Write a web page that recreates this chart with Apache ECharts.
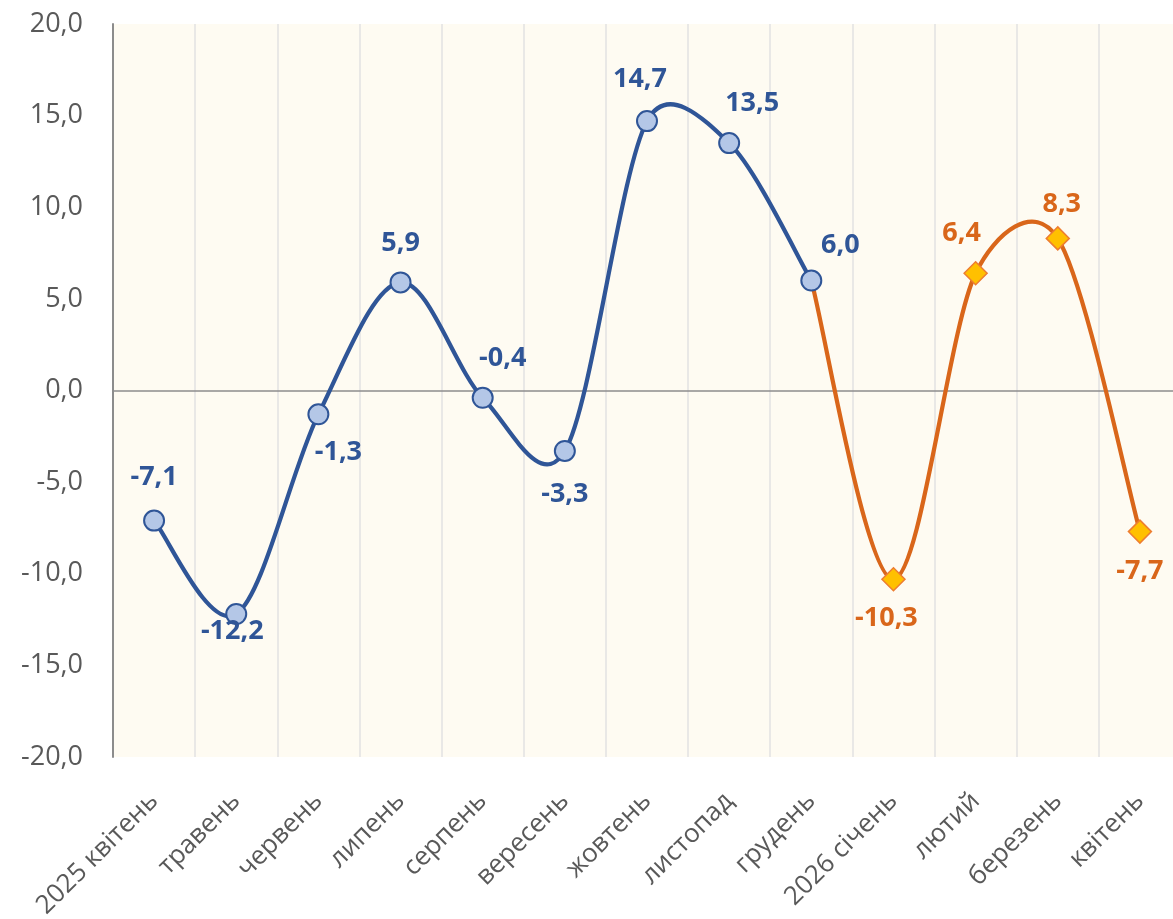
<!DOCTYPE html>
<html>
<head>
<meta charset="utf-8">
<script src="https://cdn.jsdelivr.net/npm/echarts@6/dist/echarts.min.js"></script>
<style>
  html, body { margin: 0; padding: 0; background: #fff; }
  #main { width: 1173px; height: 919px; }
</style>
</head>
<body>
<div id="main"></div>
<script>
var months = ['2025 квітень', 'травень', 'червень', 'липень', 'серпень', 'вересень',
  'жовтень', 'листопад', 'грудень', '2026 січень', 'лютий', 'березень', 'квітень'];
var factValues = [-7.1, -12.2, -1.3, 5.9, -0.4, -3.3, 14.7, 13.5, 6.0];
var forecastValues = [6.0, -10.3, 6.4, 8.3, -7.7];
var forecastStart = 8; // index of month where forecast begins
// label offsets (px) from each point
var factOffsets = [[0, -43], [-4, 17], [20, 38], [0, -39], [20, -40], [0, 43], [-7, -42], [23, -40], [29, -35]];
var forecastOffsets = [null, [-7, 39], [-14, -40], [4, -34], [0, 40]];

var BLUE = '#2F5597';
var ORANGE = '#D9661A';
var FONT = '"Open Sans", sans-serif';

function fmt(v) {
  return v.toFixed(1).replace('.', ',');
}

// [categoryIndex, value] pairs
function pairs(values, offset) {
  return values.map(function (v, i) { return [i + offset, v]; });
}

function dist(a, b) {
  return Math.sqrt((a[0] - b[0]) * (a[0] - b[0]) + (a[1] - b[1]) * (a[1] - b[1]));
}

// catmull-rom tangent at p1, not longer than half of segment p1-q
function tangent(p0, p1, p2, q) {
  var t = [(p2[0] - p0[0]) / 6, (p2[1] - p0[1]) / 6];
  var len = Math.sqrt(t[0] * t[0] + t[1] * t[1]);
  var lim = dist(p1, q) / 2;
  if (len > lim) {
    t[0] *= lim / len;
    t[1] *= lim / len;
  }
  return t;
}

// smooth curve like excel: one cubic bezier per segment
function curveSeries(values, offset, color, z) {
  var pts = pairs(values, offset);
  return {
    type: 'custom',
    z: z,
    silent: true,
    data: pts,
    encode: { x: 0, y: 1 },
    renderItem: function (params, api) {
      var i = params.dataIndex;
      if (i >= pts.length - 1) return null;
      var p0 = api.coord(pts[Math.max(i - 1, 0)]);
      var p1 = api.coord(pts[i]);
      var p2 = api.coord(pts[i + 1]);
      var p3 = api.coord(pts[Math.min(i + 2, pts.length - 1)]);
      var t1 = tangent(p0, p1, p2, p2);
      var t2 = tangent(p1, p2, p3, p1);
      return {
        type: 'bezierCurve',
        shape: {
          x1: p1[0], y1: p1[1],
          cpx1: p1[0] + t1[0], cpy1: p1[1] + t1[1],
          cpx2: p2[0] - t2[0], cpy2: p2[1] - t2[1],
          x2: p2[0], y2: p2[1]
        },
        style: { stroke: color, lineWidth: 4.2, fill: null, lineCap: 'round' }
      };
    }
  };
}

var factData = pairs(factValues, 0).map(function (p, i) {
  return { value: p, label: { offset: factOffsets[i] } };
});
var forecastData = pairs(forecastValues, forecastStart).slice(1).map(function (p, i) {
  return { value: p, label: { offset: forecastOffsets[i + 1] } };
});

var chart = echarts.init(document.getElementById('main'));
var option = {
  animation: false,
  textStyle: { fontFamily: FONT },
  grid: {
    left: 113, right: -8, top: 24, bottom: 162,
    outerBoundsMode: 'none',
    show: true, backgroundColor: '#FEFBF2', borderWidth: 0
  },
  xAxis: {
    type: 'category',
    data: months,
    boundaryGap: true,
    axisLine: { show: false },
    axisTick: { show: false },
    splitLine: { show: true, lineStyle: { color: '#E2E2E2', width: 1.5 } },
    axisLabel: {
      rotate: 45, interval: 0, margin: 40,
      fontSize: 26, color: '#595959', fontFamily: FONT
    }
  },
  yAxis: {
    type: 'value',
    min: -20, max: 20, interval: 5,
    axisLine: { show: true, lineStyle: { color: '#8C8C8C', width: 2 } },
    axisTick: { show: false },
    splitLine: { show: false },
    axisLabel: {
      margin: 30, fontSize: 27, color: '#595959', fontFamily: FONT,
      formatter: fmt
    }
  },
  series: [
    curveSeries(forecastValues, forecastStart, ORANGE, 2),
    curveSeries(factValues, 0, BLUE, 3),
    {
      name: 'прогноз',
      type: 'line',
      data: forecastData,
      z: 4,
      symbol: 'diamond',
      symbolSize: 23,
      showAllSymbol: true,
      lineStyle: { width: 0, opacity: 0 },
      itemStyle: { color: '#FFC000', borderColor: '#ED7D31', borderWidth: 1.5 },
      label: {
        show: true, position: 'inside', color: ORANGE,
        fontSize: 27, fontWeight: 'bold', fontFamily: FONT,
        formatter: function (p) { return fmt(p.value[1]); }
      },
      markLine: {
        silent: true, symbol: 'none', label: { show: false }, z: 1,
        lineStyle: { color: '#8C8C8C', width: 1.5, type: 'solid' },
        data: [{ yAxis: 0 }]
      }
    },
    {
      name: 'факт',
      type: 'line',
      data: factData,
      z: 5,
      symbol: 'circle',
      symbolSize: 20,
      showAllSymbol: true,
      lineStyle: { width: 0, opacity: 0 },
      itemStyle: { color: '#B4C7E7', borderColor: BLUE, borderWidth: 2 },
      label: {
        show: true, position: 'inside', color: BLUE,
        fontSize: 27, fontWeight: 'bold', fontFamily: FONT,
        formatter: function (p) { return fmt(p.value[1]); }
      }
    }
  ]
};
chart.setOption(option);
</script>
</body>
</html>
